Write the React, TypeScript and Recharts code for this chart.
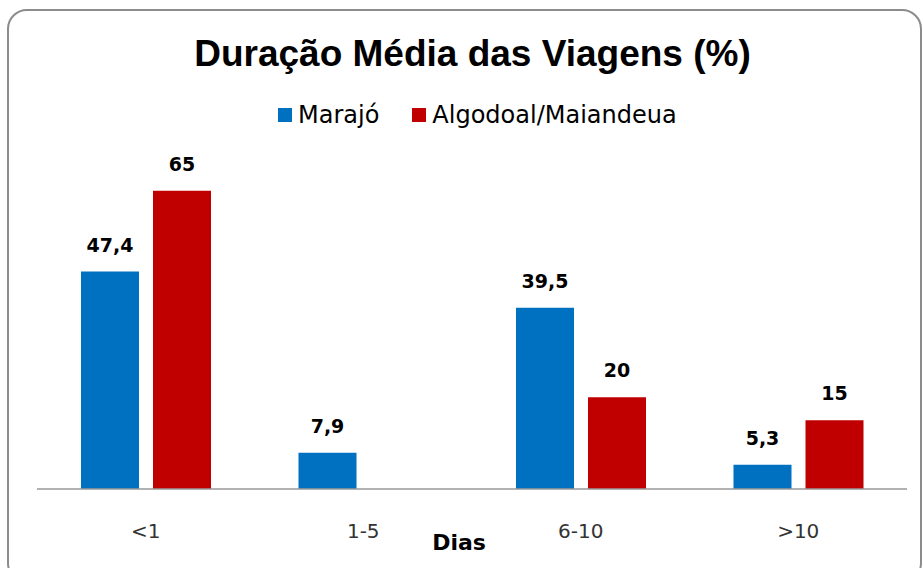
import { BarChart, Bar, XAxis, YAxis, LabelList } from 'recharts'

const categories = ['<1', '1-5', '6-10', '>10']
const marajo = [47.4, 7.9, 39.5, 5.3]
const algodoal: Array<number | null> = [65, null, 20, 15]

const series = [
  { key: 'marajo', name: 'Marajó', color: '#0070C0' },
  { key: 'algodoal', name: 'Algodoal/Maiandeua', color: '#C00000' },
]

const data = categories.map((cat, i) => ({
  cat,
  marajo: marajo[i],
  algodoal: algodoal[i],
}))

const fmt = (v: number) => String(v).replace('.', ',')

const ValueLabel = (props: any) => {
  const { x, y, width, value } = props
  if (value == null) return null
  return (
    <text
      x={x + width / 2}
      y={y - 20}
      textAnchor="middle"
      fontFamily="DejaVu Sans"
      fontWeight="bold"
      fontSize={19}
      fill="#000"
    >
      {fmt(value)}
    </text>
  )
}

const CatTick = (props: any) => {
  const { x, y, payload } = props
  return (
    <text x={x} y={y + 49} textAnchor="middle" fontFamily="DejaVu Sans" fontSize={20} fill="#333">
      {payload.value}
    </text>
  )
}

export default function App() {
  return (
    <div style={{ position: 'absolute', left: 0, top: 0, width: 923, height: 568, background: '#fff', overflow: 'hidden' }}>
      <div
        style={{
          position: 'absolute',
          left: 7,
          top: 9,
          width: 911,
          height: 570,
          border: '2px solid #8c8c8c',
          borderRadius: 20,
        }}
      />
      <div
        style={{
          position: 'absolute',
          left: 0,
          top: 35,
          width: 923,
          paddingLeft: 22,
          boxSizing: 'border-box',
          textAlign: 'center',
          fontFamily: 'Liberation Sans',
          fontWeight: 'bold',
          fontSize: 37,
          lineHeight: '37px',
          color: '#000',
        }}
      >
        Duração Média das Viagens (%)
      </div>
      <div
        style={{
          position: 'absolute',
          left: 278,
          top: 103,
          display: 'flex',
          alignItems: 'center',
          fontFamily: 'DejaVu Sans',
          fontSize: 24,
          lineHeight: '24px',
          color: '#000',
        }}
      >
        {series.map((s, i) => (
          <div key={s.key} style={{ display: 'flex', alignItems: 'center', marginRight: i === 0 ? 33 : 0 }}>
            <span style={{ width: 14, height: 14, background: s.color, marginRight: 6, display: 'inline-block' }} />
            <span>{s.name}</span>
          </div>
        ))}
      </div>
      <div style={{ position: 'absolute', left: 0, top: 0 }}>
        <BarChart
          width={923}
          height={568}
          data={data}
          margin={{ top: 145, right: 16, left: 37, bottom: 19 }}
          barGap={14}
          barSize={58}
        >
          <XAxis
            dataKey="cat"
            height={60}
            tickLine={false}
            tickSize={0}
            tickMargin={0}
            axisLine={{ stroke: '#999', strokeWidth: 1.5 }}
            tick={<CatTick />}
            label={{
              content: (p: any) => {
                const vb = p.viewBox
                return (
                  <text
                    x={vb.x + vb.width / 2 - 13}
                    y={vb.y + 61}
                    textAnchor="middle"
                    fontFamily="DejaVu Sans"
                    fontWeight="bold"
                    fontSize={22}
                    fill="#000"
                  >
                    Dias
                  </text>
                )
              },
            }}
          />
          <YAxis hide domain={[0, 75]} />
          {series.map((s) => (
            <Bar key={s.key} dataKey={s.key} name={s.name} fill={s.color} isAnimationActive={false}>
              <LabelList dataKey={s.key} content={<ValueLabel />} />
            </Bar>
          ))}
        </BarChart>
      </div>
    </div>
  )
}
